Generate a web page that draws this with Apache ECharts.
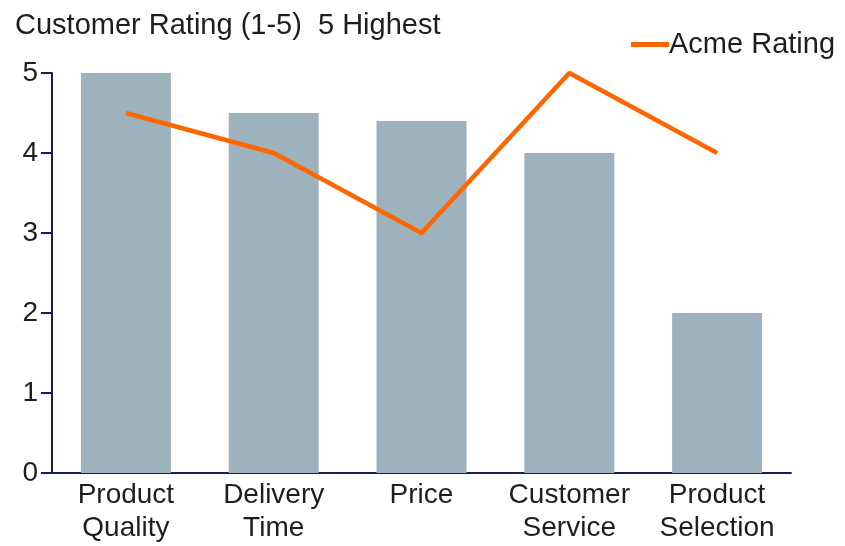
<!DOCTYPE html>
<html>
<head>
<meta charset="utf-8">
<style>
  html, body { margin: 0; padding: 0; background: #fff; }
  #chart { width: 845px; height: 546px; }
</style>
<script src="https://cdn.jsdelivr.net/npm/echarts@6/dist/echarts.min.js"></script>
</head>
<body>
<div id="chart"></div>
<script>
  // chart data
  var categories = ['Product\nQuality', 'Delivery\nTime', 'Price', 'Customer\nService', 'Product\nSelection']
  var ratingBars = [5, 4.5, 4.4, 4, 2]
  var acmeRating = [4.5, 4, 3, 5, 4]
  var yTicks = [0, 1, 2, 3, 4, 5]

  var font = 'Arial, "Liberation Sans", sans-serif'
  var textColor = '#1e1e1e'
  var axisColor = '#1c1c55'

  var chart = echarts.init(document.getElementById('chart'))
  chart.setOption({
    animation: false,
    title: {
      text: 'Customer Rating (1-5)  5 Highest',
      left: 10,
      top: 6,
      textStyle: {
        fontFamily: font,
        fontSize: 29,
        fontWeight: 'normal',
        color: textColor
      }
    },
    legend: {
      data: ['Acme Rating'],
      left: 626,
      top: 25,
      icon: 'rect',
      itemWidth: 38,
      itemHeight: 5,
      itemGap: 4,
      textStyle: {
        fontFamily: font,
        fontSize: 29,
        color: textColor,
        padding: [0, 0, 0, -5]
      }
    },
    grid: {
      left: 52,
      right: 54,
      top: 73,
      bottom: 73
    },
    xAxis: {
      type: 'category',
      data: categories,
      axisLine: { lineStyle: { color: axisColor, width: 2 } },
      axisTick: { show: false },
      axisLabel: {
        interval: 0,
        margin: 6,
        fontFamily: font,
        fontSize: 28,
        lineHeight: 33,
        color: textColor
      }
    },
    yAxis: {
      type: 'value',
      min: yTicks[0],
      max: yTicks[yTicks.length - 1],
      interval: 1,
      splitLine: { show: false },
      axisLine: { show: true, lineStyle: { color: axisColor, width: 2 } },
      axisTick: { show: true, length: 11, lineStyle: { color: axisColor, width: 2 } },
      axisLabel: {
        margin: 14,
        fontFamily: font,
        fontSize: 28,
        color: textColor
      }
    },
    series: [
      {
        name: 'Rating',
        type: 'bar',
        data: ratingBars,
        barWidth: 90,
        itemStyle: { color: '#9eb2bd' }
      },
      {
        name: 'Acme Rating',
        type: 'line',
        data: acmeRating,
        showSymbol: false,
        symbol: 'none',
        lineStyle: { color: '#ff6600', width: 4.5 },
        itemStyle: { color: '#ff6600' }
      }
    ]
  })
</script>
</body>
</html>
